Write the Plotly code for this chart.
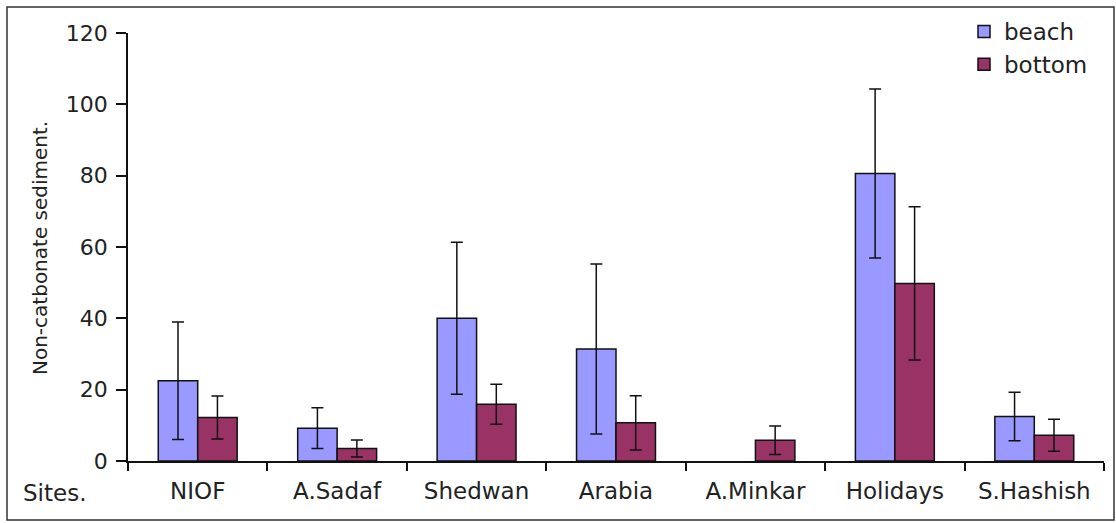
import plotly.graph_objects as go

sites = ["NIOF", "A.Sadaf", "Shedwan", "Arabia", "A.Minkar", "Holidays", "S.Hashish"]
beach = [22.5, 9.2, 40.0, 31.4, None, 80.6, 12.5]
beach_err = [16.5, 5.7, 21.3, 23.8, None, 23.7, 6.8]
bottom = [12.2, 3.5, 15.9, 10.7, 5.8, 49.8, 7.2]
bottom_err = [6.0, 2.4, 5.6, 7.6, 4.0, 21.5, 4.5]

W, H = 1116, 523
L, R, T, B = 128, 12, 33, 62
pw, ph = W - L - R, H - T - B

def px_x(x):
    return (x - L) / pw

def px_y(y):
    return (H - B - y) / ph

font = "DejaVu Sans, Liberation Sans, Arial, sans-serif"

fig = go.Figure()
fig.add_trace(go.Bar(
    x=sites, y=beach, name="beach",
    marker=dict(color="#9999FF", line=dict(color="#111111", width=1.5)),
    error_y=dict(type="data", array=beach_err, color="#111111", thickness=1.5, width=6),
))
fig.add_trace(go.Bar(
    x=sites, y=bottom, name="bottom",
    marker=dict(color="#993366", line=dict(color="#111111", width=1.5)),
    error_y=dict(type="data", array=bottom_err, color="#111111", thickness=1.5, width=6),
))

fig.update_layout(
    width=W, height=H,
    margin=dict(l=L, r=R, t=T, b=B, pad=0, autoexpand=False),
    paper_bgcolor="white", plot_bgcolor="white",
    barmode="group", bargap=0.434, bargroupgap=0,
    font=dict(family=font, size=22, color="#222222"),
    showlegend=True,
    legend=dict(
        x=px_x(964), y=px_y(10), xanchor="left", yanchor="top",
        bgcolor="rgba(0,0,0,0)", font=dict(size=23, family=font),
        itemwidth=30, tracegroupgap=0,
    ),
    xaxis=dict(
        type="category", showline=True, linecolor="#111111", linewidth=1.5,
        ticks="outside", tickson="boundaries", ticklen=8, tickwidth=1.5, tickcolor="#111111",
        tickfont=dict(size=23, family=font), ticklabelstandoff=9,
        showgrid=False, zeroline=False,
    ),
    yaxis=dict(
        range=[0, 120], dtick=20, showline=True, linecolor="#111111", linewidth=1.5,
        ticks="outside", ticklen=10, tickwidth=1.5, tickcolor="#111111",
        tickfont=dict(size=22, family=font), ticklabelstandoff=4,
        showgrid=False, zeroline=False,
    ),
    annotations=[
        dict(text="Sites.", xref="paper", yref="paper", x=px_x(21), y=px_y(493),
             xanchor="left", yanchor="middle", showarrow=False, font=dict(size=23)),
        dict(text="Non-catbonate sediment.", xref="paper", yref="paper", x=px_x(40), y=px_y(248),
             xanchor="center", yanchor="middle", textangle=-90, showarrow=False, font=dict(size=20)),
    ],
    shapes=[
        dict(type="rect", xref="paper", yref="paper",
             x0=px_x(7), x1=px_x(1114), y0=px_y(520), y1=px_y(7),
             line=dict(color="#333333", width=1.5), fillcolor="rgba(0,0,0,0)", layer="below"),
    ],
)

fig.write_html("out.html")
